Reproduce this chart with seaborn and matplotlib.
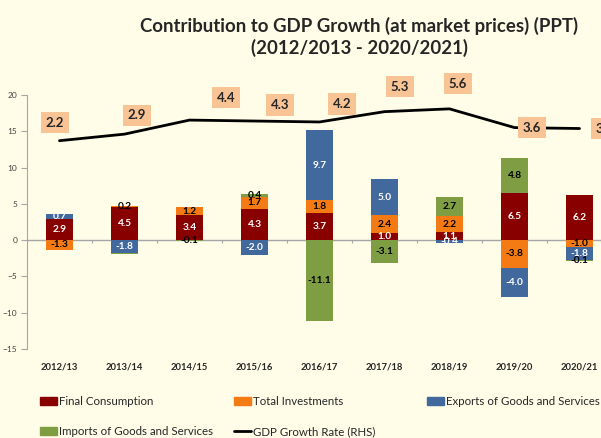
import numpy as np
import matplotlib.pyplot as plt
import seaborn as sns
from matplotlib.patches import Patch
from matplotlib.lines import Line2D

years = ['2012/13', '2013/14', '2014/15', '2015/16', '2016/17',
         '2017/18', '2018/19', '2019/20', '2020/21']
final_consumption = [2.9, 4.5, 3.4, 4.3, 3.7, 1.0, 1.1, 6.5, 6.2]
total_investments = [-1.3, 0.2, 1.2, 1.7, 1.8, 2.4, 2.2, -3.8, -1.0]
exports = [0.7, -1.8, 0.0, -2.0, 9.7, 5.0, -0.4, -4.0, -1.8]
imports = [-0.05, -0.05, -0.1, 0.4, -11.1, -3.1, 2.7, 4.8, -0.1]
gdp_growth = [2.2, 2.9, 4.4, 4.3, 4.2, 5.3, 5.6, 3.6, 3.5]

BG = '#FFFDE8'
GRID = '#A6A6A6'

sns.set_style('white', {'axes.facecolor': BG, 'figure.facecolor': BG})
plt.rcParams['font.family'] = ['Lato', 'DejaVu Sans']

fig = plt.figure(figsize=(6.01, 4.38), dpi=100)
ax = fig.add_axes([27 / 601, 89 / 438, 585 / 601, 254 / 438])

series = [
    ('Final Consumption', final_consumption, '#880000', 'white'),
    ('Total Investments', total_investments, '#F47B14', 'black'),
    ('Exports of Goods and Services', exports, '#41699E', 'white'),
    ('Imports of Goods and Services', imports, '#7F9E44', 'black'),
]

n = len(years)
pos_base = np.zeros(n)
neg_base = np.zeros(n)
for name, vals, color, txt in series:
    vals = np.array(vals)
    bottom = np.where(vals >= 0, pos_base, neg_base)
    sns.barplot(x=years, y=vals, bottom=bottom, color=color, width=0.43,
                saturation=1, errorbar=None, linewidth=0, ax=ax, zorder=2)
    # value labels in the middle of each segment
    for i, v in enumerate(vals):
        if abs(v) >= 0.1:
            ax.text(i, bottom[i] + v / 2, f'{v:.1f}', ha='center', va='center',
                    color=txt, fontsize=7.3, fontweight='bold', zorder=4)
    pos_base = np.where(vals >= 0, pos_base + vals, pos_base)
    neg_base = np.where(vals < 0, neg_base + vals, neg_base)

ax.set_xlim(-0.5, n - 0.5)
ax.set_ylim(-15, 20)
ax.set_yticks(range(-15, 21, 5))
ax.set_xlabel('')
ax.set_ylabel('')
ax.tick_params(axis='y', length=4, width=0.8, color=GRID, labelsize=6,
               labelcolor='#404040', left=True, pad=3)
ax.tick_params(axis='x', length=0, pad=10, labelsize=6.8)
for lab in ax.get_xticklabels():
    lab.set_fontweight('bold')
for s in ['top', 'right', 'bottom']:
    ax.spines[s].set_visible(False)
ax.spines['left'].set_color(GRID)
ax.spines['left'].set_linewidth(0.8)

# zero line with category separators
ax.axhline(0, color=GRID, lw=1, zorder=1)
ax.vlines(np.arange(n + 1) - 0.5, -0.45, 0, color=GRID, lw=0.8, zorder=1)

# GDP growth on the hidden right axis
ax2 = ax.twinx()
sns.lineplot(x=np.arange(n), y=gdp_growth, color='black', lw=2, ax=ax2)
ax2.set_ylim(-20.05, 7.08)
ax2.axis('off')
ax2.set_xlim(-0.5, n - 0.5)

dx = [-4.5, 12.5, 36.5, 25.5, 22.5, 15.5, 8.5, 17.5, 25.5]
dy = [18, 19, 22.5, 16, 18, 25, 25, 0, 0]
for i, g in enumerate(gdp_growth):
    ax2.annotate(f'{g:.1f}', (i, g), xytext=(dx[i], dy[i]), textcoords='offset pixels',
                 ha='center', va='center', fontsize=9.5, fontweight='bold',
                 bbox=dict(boxstyle='square,pad=0.35', fc='#F9C495', ec='none'),
                 zorder=5)

fig.suptitle('Contribution to GDP Growth (at market prices) (PPT)\n(2012/2013 - 2020/2021)',
             x=0.598, y=0.962, fontsize=13.4, fontweight='bold', linespacing=1.3)

# legend laid out in three columns like the original
cols = [
    ([Patch(color='#880000'), Patch(color='#7F9E44')],
     ['Final Consumption', 'Imports of Goods and Services'], 40),
    ([Patch(color='#F47B14'), Line2D([], [], color='black', lw=2)],
     ['Total Investments', 'GDP Growth Rate (RHS)'], 234),
    ([Patch(color='#41699E')], ['Exports of Goods and Services'], 427),
]
for handles, labels, xpx in cols:
    fig.legend(handles, labels, loc='upper left', bbox_to_anchor=(xpx / 601, 0.095),
               frameon=False, fontsize=8.3, handlelength=1.5, handleheight=0.7,
               handletextpad=0.15, labelspacing=1.6, borderpad=0, borderaxespad=0)

fig.savefig('out.png', dpi=100, facecolor=BG)
